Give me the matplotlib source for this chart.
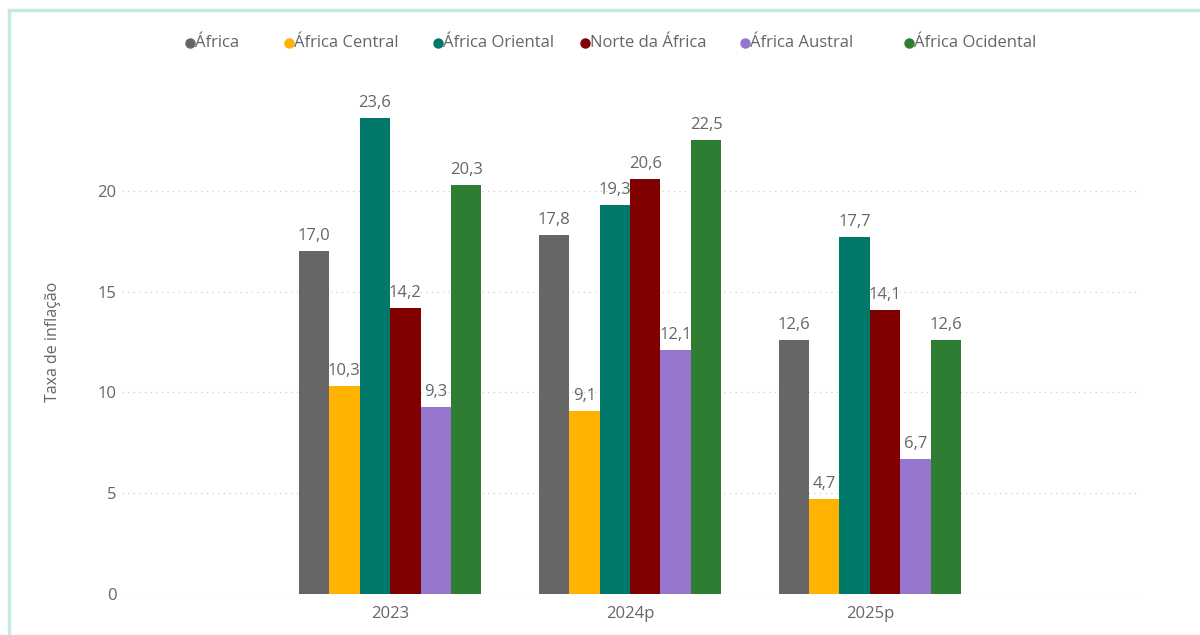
import matplotlib.pyplot as plt
import numpy as np
from matplotlib.lines import Line2D
from matplotlib.patches import Rectangle

plt.rcParams['font.family'] = ['Open Sans', 'DejaVu Sans']

years = ['2023', '2024p', '2025p']
series = ['África', 'África Central', 'África Oriental', 'Norte da África', 'África Austral', 'África Ocidental']
africa = [17.0, 17.8, 12.6]
africa_central = [10.3, 9.1, 4.7]
africa_oriental = [23.6, 19.3, 17.7]
norte_africa = [14.2, 20.6, 14.1]
africa_austral = [9.3, 12.1, 6.7]
africa_ocidental = [20.3, 22.5, 12.6]
values = [africa, africa_central, africa_oriental, norte_africa, africa_austral, africa_ocidental]
colors = ['#666666', '#FFB300', '#00796B', '#800000', '#9575CD', '#2E7D32']

txt = '#666666'
fig = plt.figure(figsize=(12, 6.35), dpi=100)
ax = fig.add_axes([122/1200, 1 - 594/635, (1138 - 122)/1200, (594 - 90)/635])

x = np.arange(len(years))
w = 0.127
for i, (vals, c) in enumerate(zip(values, colors)):
    pos = x + (i - 2.5) * w
    bars = ax.bar(pos, vals, width=w, color=c, zorder=3, linewidth=0)
    for b, v in zip(bars, vals):
        ax.annotate(f'{v:.1f}'.replace('.', ','), (b.get_x() + b.get_width()/2, v),
                    xytext=(0, 5), textcoords='offset points', ha='center', va='bottom',
                    fontsize=12, color=txt)

ax.set_xlim(-1.117, 3.117)
ax.set_ylim(0, 25)
ax.set_yticks([0, 5, 10, 15, 20])
ax.set_xticks(x)
ax.set_xticklabels(years)
ax.tick_params(axis='both', length=0, labelsize=12, labelcolor=txt)
ax.tick_params(axis='x', pad=9)
ax.tick_params(axis='y', pad=4)
ax.grid(axis='y', color='#cfcfcf', linestyle=(0, (1, 3.5)), linewidth=0.9, zorder=0)
for s in ax.spines.values():
    s.set_visible(False)
ax.set_ylabel('Taxa de inflação', fontsize=11.5, color=txt, labelpad=26)

# legend, placed like the original
leg_x = [190, 289, 438, 585, 745, 909]
for lx, name, c in zip(leg_x, series, colors):
    fig.add_artist(Line2D([lx/1200], [1 - 43/635], marker='o', markersize=6.5, color=c,
                          transform=fig.transFigure))
    fig.text((lx + 5)/1200, 1 - 43/635, name, fontsize=12, color=txt, va='center', ha='left')

# frame border
fig.add_artist(Rectangle((9/1200, -0.1), 1.2, 1.1 - 10/635, transform=fig.transFigure,
                         fill=False, edgecolor='#c8e8e6', linewidth=2.5))

fig.savefig('out.png', dpi=100)
